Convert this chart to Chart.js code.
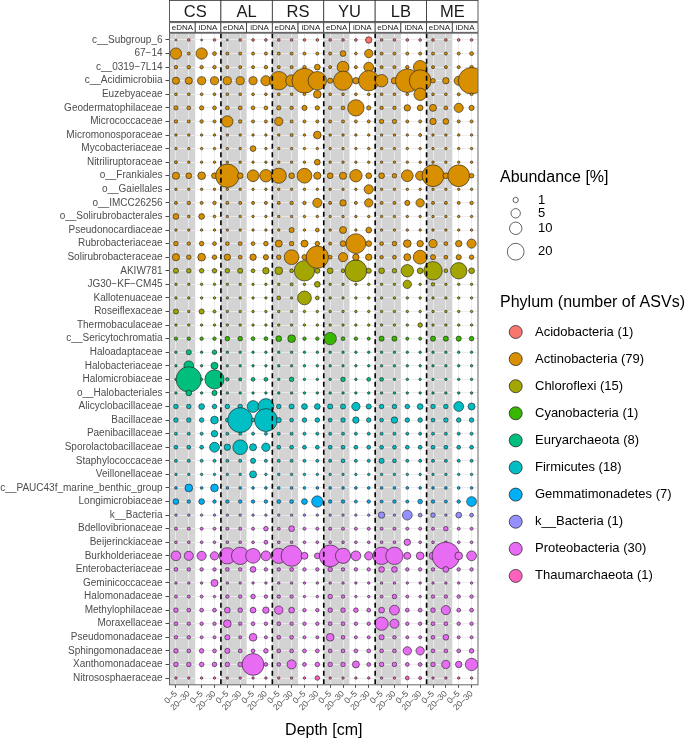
<!DOCTYPE html>
<html>
<head>
<meta charset="utf-8">
<script src="https://cdn.jsdelivr.net/npm/chart.js@4.4.0/dist/chart.umd.min.js"></script>
<style>
  html, body { margin: 0; padding: 0; background: #fff; }
  #wrap { width: 690px; height: 743px; }
</style>
</head>
<body>
<div id="wrap"><canvas id="grafico" width="690" height="743"></canvas></div>
<script>
// sitios, fracciones y profundidades (24 columnas: sitio > fraccion > profundidad)
const sites = ['CS', 'AL', 'RS', 'YU', 'LB', 'ME'];
const fractions = ['eDNA', 'iDNA'];
const depths = ['0–5', '20–30'];

const families = [
  'c__Subgroup_6', '67−14', 'c__0319−7L14', 'c__Acidimicrobiia', 'Euzebyaceae',
  'Geodermatophilaceae', 'Micrococcaceae', 'Micromonosporaceae', 'Mycobacteriaceae',
  'Nitriliruptoraceae', 'o__Frankiales', 'o__Gaiellales', 'o__IMCC26256',
  'o__Solirubrobacterales', 'Pseudonocardiaceae', 'Rubrobacteriaceae',
  'Solirubrobacteraceae', 'AKIW781', 'JG30−KF−CM45', 'Kallotenuaceae', 'Roseiflexaceae',
  'Thermobaculaceae', 'c__Sericytochromatia', 'Haloadaptaceae', 'Halobacteriaceae',
  'Halomicrobiaceae', 'o__Halobacteriales', 'Alicyclobacillaceae', 'Bacillaceae',
  'Paenibacillaceae', 'Sporolactobacillaceae', 'Staphylococcaceae', 'Veillonellaceae',
  'c__PAUC43f_marine_benthic_group', 'Longimicrobiaceae', 'k__Bacteria',
  'Bdellovibrionaceae', 'Beijerinckiaceae', 'Burkholderiaceae', 'Enterobacteriaceae',
  'Geminicoccaceae', 'Halomonadaceae', 'Methylophilaceae', 'Moraxellaceae',
  'Pseudomonadaceae', 'Sphingomonadaceae', 'Xanthomonadaceae', 'Nitrososphaeraceae'
];

const familyPhylum = [
  'Acidobacteria',
  'Actinobacteria', 'Actinobacteria', 'Actinobacteria', 'Actinobacteria', 'Actinobacteria',
  'Actinobacteria', 'Actinobacteria', 'Actinobacteria', 'Actinobacteria', 'Actinobacteria',
  'Actinobacteria', 'Actinobacteria', 'Actinobacteria', 'Actinobacteria', 'Actinobacteria',
  'Actinobacteria',
  'Chloroflexi', 'Chloroflexi', 'Chloroflexi', 'Chloroflexi', 'Chloroflexi',
  'Cyanobacteria',
  'Euryarchaeota', 'Euryarchaeota', 'Euryarchaeota', 'Euryarchaeota',
  'Firmicutes', 'Firmicutes', 'Firmicutes', 'Firmicutes', 'Firmicutes', 'Firmicutes',
  'Gemmatimonadetes', 'Gemmatimonadetes',
  'k__Bacteria',
  'Proteobacteria', 'Proteobacteria', 'Proteobacteria', 'Proteobacteria', 'Proteobacteria',
  'Proteobacteria', 'Proteobacteria', 'Proteobacteria', 'Proteobacteria', 'Proteobacteria',
  'Proteobacteria',
  'Thaumarchaeota'
];

const phyla = ['Acidobacteria', 'Actinobacteria', 'Chloroflexi', 'Cyanobacteria', 'Euryarchaeota',
  'Firmicutes', 'Gemmatimonadetes', 'k__Bacteria', 'Proteobacteria', 'Thaumarchaeota'];
const phylaAsvs = [1, 79, 15, 1, 8, 18, 7, 1, 30, 1];
const phylaColors = ['#F8766D', '#D89000', '#A3A500', '#39B600', '#00BF7D',
  '#00BFC4', '#00B0F6', '#9590FF', '#E76BF3', '#FF62BC'];

const sizeBreaks = [1, 5, 10, 20];

// abundancia [%] por familia; cada fila: CS | AL | RS | YU | LB | ME (eDNA 0-5, 20-30, iDNA 0-5, 20-30)
const abundance = [
  [0, 0.05, 0, 0.05,   0, 0.05, 0.05, 0.05,   0.05, 0.05, 0.05, 0.05,   0.05, 0.05, 0.05, 1.8,   0.05, 0.05, 0.05, 0.05,   0.05, 0.05, 0.05, 0.05],
  [8, 0.1, 8, 0.3,     0.1, 0.1, 0.1, 0.1,    0.1, 0.1, 0.1, 0.1,       0.1, 1.3, 0.05, 3.7,     0.1, 0.1, 0.1, 0.1,       0.1, 0.1, 0.1, 0.3],
  [0.2, 0.2, 0.2, 0.2, 0.1, 0.1, 0.1, 0.2,    0.1, 0.1, 0.2, 1.3,       0.1, 8.8, 0.1, 5.6,      0.1, 0.1, 0.2, 12,        0.1, 0.1, 0.1, 0.2],
  [2.5, 2.5, 3.5, 3.5, 3.5, 3.5, 3.5, 6,      25, 8.8, 48, 25,          1, 27, 1.8, 31,          10, 1.8, 43, 36,          0.6, 1.8, 4.7, 55],
  [0.05, 0.05, 0.05, 0.05, 0.05, 0.05, 0.05, 0.05, 0.05, 0.05, 0.05, 3, 0.05, 0.05, 0.05, 0.05, 0.05, 0.05, 0.05, 10,  0.05, 0.05, 0.1, 0.05],
  [0.5, 0.3, 0.5, 0.3, 0.3, 0.3, 0.3, 0.3,    0.5, 0.2, 0.9, 0.5,       0.2, 0.3, 19, 0.5,       0.2, 0.2, 1.8, 1.3,       2.3, 0.3, 4.7, 0.9],
  [0.2, 0.1, 0.2, 0.1, 8, 0.2, 0.1, 0.1,      3.7, 0.1, 0.1, 0.1,       0.1, 0.1, 0.1, 0.1,      0.5, 0.5, 0.1, 0.1,       1.8, 1.3, 0.1, 0.1],
  [0.02, 0.02, 0.02, 0.02, 0.02, 0.02, 0.02, 0.02, 0.02, 0.1, 0.02, 3, 0.02, 0.02, 0.02, 0.02, 0.02, 0.02, 0.02, 0.1, 0.02, 0.02, 0.02, 0.02],
  [0.02, 0.02, 0.02, 0.02, 0.02, 0.02, 1.3, 0.02, 0.02, 0.02, 0.02, 0.02, 0.02, 0.02, 0.02, 0.02, 0.02, 0.02, 0.02, 0.02, 0.02, 0.02, 0.02, 0.02],
  [0.1, 0.02, 0.02, 0.02, 0.02, 0.02, 0.02, 0.02, 0.02, 0.02, 0.02, 1.3, 0.02, 0.02, 0.02, 0.02, 0.02, 0.02, 0.02, 0.02, 0.02, 0.02, 0.02, 0.02],
  [2.5, 1.3, 3, 1.3,   42, 1.3, 8.8, 10,      16, 1.3, 15, 2.5,         1.3, 2.5, 10, 1.3,       1.3, 0.6, 8.8, 4.7,       36, 1.3, 36, 0.6],
  [0.02, 0.02, 0.02, 0.02, 0.02, 0.02, 0.02, 0.02, 0.02, 0.02, 0.02, 0.02, 0.02, 0.02, 0.02, 4.7, 0.02, 0.02, 0.02, 0.02, 0.02, 0.02, 0.02, 0.02],
  [0.1, 0.2, 0.1, 0.2, 0.1, 0.1, 0.1, 0.1,    0.1, 0.2, 0.2, 4.7,       0.1, 1.8, 0.1, 3.7,      0.1, 0.1, 0.9, 3.7,       0.1, 0.1, 0.1, 0.2],
  [1.3, 0.05, 1.3, 0.05, 0.02, 0.02, 0.02, 0.02, 0.02, 0.02, 0.02, 0.02, 0.02, 0.02, 0.02, 0.02, 0.02, 0.02, 0.02, 0.02, 0.02, 0.02, 0.02, 0.02],
  [0.02, 0.02, 0.02, 0.02, 0.02, 0.02, 0.02, 0.02, 0.02, 0.9, 0.02, 0.3, 0.02, 2.3, 0.02, 1.3, 0.02, 0.02, 0.02, 0.02, 0.02, 0.02, 0.02, 0.02],
  [0.6, 0.2, 0.6, 0.3, 0.3, 0.3, 0.3, 0.6,    2.3, 0.6, 2.3, 0.6,       0.1, 1.3, 29, 1.3,       0.3, 0.6, 3, 1.8,         3.7, 0.3, 1.8, 4.7],
  [2.5, 0.6, 3, 0.6,   1.8, 0.3, 1.8, 0.9,    0.6, 15, 0.9, 38,         0.3, 4.7, 1.8, 1.8,      0.2, 0.3, 2.3, 12.8,      0.9, 0.3, 0.9, 0.6],
  [0.9, 0.6, 0.6, 0.6, 0.6, 0.9, 0.3, 1.8,    3, 0.3, 31, 0.9,          1.3, 0.3, 36, 0.9,       1.3, 0.6, 10, 1.3,        25, 0.3, 19, 1.3],
  [0.02, 0.02, 0.02, 0.02, 0.02, 0.02, 0.02, 0.02, 0.02, 0.1, 0.02, 1.3, 0.02, 0.02, 0.02, 0.02, 0.02, 0.02, 3.7, 0.02, 0.2, 0.02, 0.02, 0.02],
  [0.02, 0.02, 0.02, 0.02, 0.02, 0.02, 0.02, 0.02, 0.3, 0.02, 12.8, 0.3, 0.02, 0.02, 0.02, 0.02, 0.02, 0.02, 0.02, 0.02, 0.02, 0.02, 0.02, 0.02],
  [0.9, 0.02, 0.9, 0.1, 0.02, 0.02, 0.02, 0.02, 0.02, 0.02, 0.02, 0.02, 0.02, 0.02, 0.02, 0.02, 0.02, 0.02, 0.02, 0.02, 0.02, 0.02, 0.02, 0.02],
  [0.02, 0.02, 0.02, 0.02, 0.02, 0.02, 0.02, 0.02, 0.02, 0.02, 0.02, 0.02, 0.02, 0.02, 0.02, 0.02, 0.02, 0.02, 0.02, 0.6, 0.02, 0.02, 0.02, 0.02],
  [0.2, 0.2, 0.2, 0.2, 0.6, 0.6, 0.3, 0.3,    1.3, 3, 0.2, 0.2,         10, 0.3, 0.2, 0.1,       0.9, 0.9, 0.1, 0.1,       0.9, 0.9, 0.9, 0.6],
  [0.02, 0.9, 0.02, 0.6, 0.02, 0.02, 0.02, 0.02, 0.02, 0.02, 0.02, 0.02, 0.02, 0.02, 0.02, 0.02, 0.02, 0.02, 0.02, 0.02, 0.02, 0.02, 0.02, 0.02],
  [0.02, 5.6, 0.02, 2.3, 0.02, 0.02, 0.02, 0.02, 0.02, 0.02, 0.02, 0.02, 0.02, 0.02, 0.02, 0.02, 0.02, 0.02, 0.02, 0.02, 0.02, 0.02, 0.02, 0.02],
  [0.02, 50, 0.02, 27, 0.2, 0.1, 0.3, 0.3,    0.02, 0.6, 0.02, 0.02,    0.02, 0.6, 0.02, 0.3,    0.3, 0.02, 0.02, 0.02,    0.02, 0.02, 0.02, 0.02],
  [0.02, 1.3, 0.02, 0.9, 0.02, 0.02, 0.02, 0.02, 0.02, 0.02, 0.02, 0.02, 0.02, 0.02, 0.02, 0.02, 0.02, 0.02, 0.02, 0.02, 0.02, 0.02, 0.02, 0.02],
  [0.6, 0.6, 1.3, 0.6, 0.6, 0.6, 8.8, 17.5,   0.6, 0.9, 1.3, 1.3,       0.9, 0.9, 3.7, 0.9,      0.6, 0.6, 0.6, 1.3,       0.6, 0.6, 5.6, 2.3],
  [0.6, 0.6, 0.6, 3,   0.3, 48, 0.2, 40,      0.9, 0.3, 0.6, 0.6,       0.3, 0.6, 1.8, 0.6,      0.3, 1.8, 0.6, 0.6,       0.3, 0.6, 0.6, 0.6],
  [0.1, 0.1, 0.1, 1.8, 0.1, 0.1, 0.1, 0.1,    0.1, 0.1, 0.1, 0.1,       0.1, 0.1, 0.1, 0.1,      0.1, 0.1, 0.1, 0.1,       0.1, 0.1, 0.1, 0.1],
  [0.3, 0.3, 0.3, 5.6, 1.8, 15, 2.3, 3.7,     0.3, 0.3, 0.3, 0.3,       0.3, 0.3, 0.3, 0.3,      0.3, 0.3, 0.3, 0.3,       0.3, 0.3, 0.3, 0.3],
  [0.1, 0.1, 0.1, 0.1, 0.1, 0.1, 0.9, 0.1,    0.1, 0.1, 0.1, 0.1,       0.1, 0.3, 0.1, 0.1,      0.9, 0.3, 0.1, 0.1,       0.1, 0.1, 0.1, 0.1],
  [0.02, 0.02, 0.02, 0.02, 0.02, 0.02, 2.3, 0.02, 0.02, 0.02, 0.02, 0.02, 0.02, 0.02, 0.02, 0.02, 0.02, 0.02, 0.02, 0.02, 0.02, 0.02, 0.02, 0.02],
  [0.05, 3, 0.05, 3,   0.05, 0.05, 0.05, 0.05, 0.05, 0.05, 0.05, 0.05,  0.05, 0.05, 0.05, 0.05,  0.05, 0.05, 0.05, 0.05,  0.05, 0.05, 0.05, 0.05],
  [1.3, 0.2, 1.3, 0.2, 0.2, 0.2, 0.2, 0.2,    0.3, 0.3, 1.3, 8,         0.2, 0.2, 0.1, 0.2,      0.1, 0.2, 0.1, 0.6,       0.2, 0.1, 0.2, 5.6],
  [0.02, 0.02, 0.02, 0.02, 0.02, 0.02, 0.02, 0.02, 0.02, 0.02, 0.02, 0.02, 0.02, 0.02, 0.02, 0.02, 1.8, 0.02, 5.6, 0.3, 0.6, 0.02, 1.3, 0.3],
  [0.1, 0.1, 0.1, 0.1, 0.1, 0.1, 0.1, 0.6,    0.1, 1.3, 0.1, 0.1,       0.1, 0.1, 0.1, 0.1,      0.1, 0.1, 0.1, 0.1,       0.1, 0.6, 0.1, 0.1],
  [0.05, 0.05, 0.05, 0.05, 0.05, 0.05, 0.05, 0.3, 0.05, 0.05, 0.05, 0.05, 0.05, 0.05, 0.05, 0.05, 0.05, 0.05, 1.8, 0.05, 0.05, 0.05, 0.05, 0.05],
  [5.6, 4.7, 4.7, 3.7, 19, 22, 15, 5.6,       16, 33, 2.3, 1.3,         36, 16, 5.6, 3.7,        22, 22, 2.3, 3,           3, 60, 3, 5.6],
  [0.3, 0.2, 0.2, 0.2, 0.3, 0.2, 1.3, 0.2,    0.2, 0.3, 0.2, 0.2,       0.6, 0.2, 0.2, 0.2,      1.3, 1.3, 0.2, 0.2,       0.2, 1.3, 0.2, 0.2],
  [0.02, 0.02, 0.02, 2.3, 0.02, 0.02, 0.02, 0.02, 0.02, 0.02, 0.02, 0.02, 0.02, 0.02, 0.02, 0.02, 0.02, 0.02, 0.02, 0.02, 0.02, 0.02, 0.02, 0.02],
  [0.1, 0.1, 0.1, 0.02, 0.2, 0.2, 0.6, 0.2,   0.2, 0.2, 0.02, 0.02,     0.6, 0.2, 0.02, 0.02,    0.1, 0.6, 0.1, 0.02,      0.2, 0.2, 0.2, 0.2],
  [0.6, 0.3, 0.3, 0.3, 1.3, 0.6, 1.3, 1.8,    3.7, 1.3, 0.2, 0.2,       0.6, 0.6, 0.6, 0.3,      1.3, 5.6, 0.3, 0.3,       0.6, 4.7, 0.3, 0.3],
  [0.3, 0.2, 0.2, 0.2, 3, 0.2, 0.3, 0.2,      0.3, 0.2, 0.2, 0.2,       0.3, 0.3, 0.2, 0.2,      11.7, 4.7, 0.2, 0.2,      0.3, 0.3, 0.2, 0.2],
  [0.2, 0.2, 0.1, 0.1, 0.9, 0.1, 3, 0.1,      0.3, 0.3, 0.1, 0.1,       3, 0.3, 0.1, 0.1,        0.9, 0.2, 0.1, 0.1,       0.3, 1.3, 0.1, 0.1],
  [0.6, 0.3, 0.6, 0.3, 0.9, 0.3, 0.3, 0.6,    0.3, 0.3, 0.3, 0.3,       0.3, 0.3, 0.3, 0.3,      0.3, 0.3, 3.7, 3.7,       0.3, 0.3, 0.3, 0.6],
  [0.6, 0.6, 0.6, 0.6, 0.6, 0.6, 36, 0.3,     0.3, 4.7, 0.3, 0.6,       0.6, 0.6, 2.3, 0.3,      0.6, 0.6, 0.3, 0.3,       0.6, 3.7, 1.8, 10],
  [0.02, 0.02, 0.02, 0.02, 0.02, 0.02, 0.02, 0.02, 0.02, 0.02, 0.02, 0.6, 0.02, 0.02, 0.02, 0.02, 0.02, 0.02, 0.3, 0.1, 0.02, 0.02, 0.02, 0.02]
];

const FUENTE = '"Liberation Sans", Arial, sans-serif';
const nCols = sites.length * fractions.length * depths.length;

// radio del punto en px segun abundancia (escala de area)
const radio = v => 1 + 1.65 * Math.sqrt(v);

const datasets = phyla.map((p, k) => ({
  label: p,
  data: [],
  backgroundColor: phylaColors[k],
  borderColor: '#1a1a1a',
  borderWidth: 0.6
}));

abundance.forEach((fila, j) => {
  const k = phyla.indexOf(familyPhylum[j]);
  fila.forEach((v, i) => {
    datasets[k].data.push({ x: i, y: j, r: radio(v) });
  });
});

const decorado = {
  id: 'decorado',
  beforeDraw(chart) {
    const { ctx, chartArea: a, scales: { x } } = chart;
    ctx.save();
    ctx.fillStyle = '#fff';
    ctx.fillRect(0, 0, chart.width, chart.height);
    // bandas grises para eDNA
    ctx.fillStyle = '#D3D3D3';
    sites.forEach((s, k) => {
      const x0 = x.getPixelForValue(k * 4 - 0.5);
      const x1 = x.getPixelForValue(k * 4 + 1.5);
      ctx.fillRect(x0, a.top, x1 - x0, a.bottom - a.top);
    });
    ctx.restore();
  },
  afterDatasetsDraw(chart) {
    const { ctx, chartArea: a, scales: { x } } = chart;
    ctx.save();
    ctx.strokeStyle = '#000';
    ctx.lineWidth = 1.6;
    ctx.setLineDash([5, 3.5]);
    for (let k = 1; k < sites.length; k++) {
      const px = x.getPixelForValue(k * 4 - 0.5);
      ctx.beginPath();
      ctx.moveTo(px, a.top);
      ctx.lineTo(px, a.bottom);
      ctx.stroke();
    }
    ctx.restore();
  },
  afterDraw(chart) {
    const { ctx, chartArea: a, scales: { x } } = chart;
    ctx.save();
    // borde del panel
    ctx.strokeStyle = '#666';
    ctx.lineWidth = 1;
    ctx.strokeRect(a.left, a.top, a.right - a.left, a.bottom - a.top);

    // tiras superiores
    ctx.strokeStyle = '#333';
    ctx.lineWidth = 0.8;
    ctx.textAlign = 'center';
    ctx.textBaseline = 'middle';
    sites.forEach((s, k) => {
      const x0 = x.getPixelForValue(k * 4 - 0.5);
      const x1 = x.getPixelForValue(k * 4 + 3.5);
      ctx.fillStyle = '#fff';
      ctx.fillRect(x0, 0.5, x1 - x0, 21);
      ctx.strokeRect(x0, 0.5, x1 - x0, 21);
      ctx.fillStyle = '#1a1a1a';
      ctx.font = '16.5px ' + FUENTE;
      ctx.fillText(s, (x0 + x1) / 2, 12);
      fractions.forEach((f, m) => {
        const y0 = x.getPixelForValue(k * 4 + m * 2 - 0.5);
        const y1 = x.getPixelForValue(k * 4 + m * 2 + 1.5);
        ctx.fillStyle = '#fff';
        ctx.fillRect(y0, 22.7, y1 - y0, 9.6);
        ctx.strokeRect(y0, 22.7, y1 - y0, 9.6);
        ctx.fillStyle = '#1a1a1a';
        ctx.font = '8px ' + FUENTE;
        ctx.fillText(f, (y0 + y1) / 2, 27.6);
      });
    });

    // titulo eje x
    ctx.fillStyle = '#000';
    ctx.font = '16px ' + FUENTE;
    ctx.fillText('Depth [cm]', (a.left + a.right) / 2, 731);

    // leyenda de tamano
    ctx.textAlign = 'left';
    ctx.font = '16px ' + FUENTE;
    ctx.fillText('Abundance [%]', 500, 178);
    const ySize = [200, 213.3, 228.3, 251.7];
    ctx.font = '13px ' + FUENTE;
    sizeBreaks.forEach((b, i) => {
      ctx.beginPath();
      ctx.arc(515.7, ySize[i], radio(b), 0, Math.PI * 2);
      ctx.fillStyle = '#fff';
      ctx.fill();
      ctx.strokeStyle = '#222';
      ctx.lineWidth = 0.7;
      ctx.stroke();
      ctx.fillStyle = '#000';
      ctx.fillText(String(b), 538, ySize[i]);
    });

    // leyenda de phylum
    ctx.font = '16px ' + FUENTE;
    ctx.fillText('Phylum (number of ASVs)', 500, 303);
    ctx.font = '13px ' + FUENTE;
    phyla.forEach((p, i) => {
      const yy = 332 + i * 27.1;
      ctx.beginPath();
      ctx.arc(515.7, yy, 6.5, 0, Math.PI * 2);
      ctx.fillStyle = phylaColors[i];
      ctx.fill();
      ctx.strokeStyle = '#1a1a1a';
      ctx.lineWidth = 0.7;
      ctx.stroke();
      ctx.fillStyle = '#000';
      ctx.fillText(`${p} (${phylaAsvs[i]})`, 535, yy);
    });
    ctx.restore();
  }
};

new Chart(document.getElementById('grafico'), {
  type: 'bubble',
  data: { datasets },
  options: {
    responsive: false,
    animation: false,
    events: [],
    devicePixelRatio: 1,
    layout: { padding: { left: 0, right: 212, top: 33.2, bottom: 0 } },
    plugins: { legend: { display: false }, tooltip: { enabled: false } },
    scales: {
      x: {
        type: 'linear',
        min: -0.5,
        max: nCols - 0.5,
        afterBuildTicks: s => { s.ticks = Array.from({ length: nCols }, (_, i) => ({ value: i })); },
        afterFit: s => { s.height = 743 - 684.8; },
        grid: { color: '#EBEBEB', lineWidth: 0.9, tickLength: 3, tickColor: '#333' },
        border: { display: false },
        ticks: {
          autoSkip: false,
          minRotation: 45,
          maxRotation: 45,
          padding: 1,
          color: '#4D4D4D',
          font: { family: FUENTE, size: 8.5 },
          callback: v => depths[v % 2]
        }
      },
      y: {
        type: 'linear',
        reverse: true,
        min: -0.5,
        max: families.length - 0.5,
        afterBuildTicks: s => { s.ticks = families.map((_, i) => ({ value: i })); },
        afterFit: s => { s.width = 169.5; },
        grid: { color: '#EBEBEB', lineWidth: 0.9, tickLength: 4, tickColor: '#333' },
        border: { display: false },
        ticks: {
          autoSkip: false,
          padding: 3,
          color: '#4D4D4D',
          font: { family: FUENTE, size: 10 },
          callback: v => families[v]
        }
      }
    }
  },
  plugins: [decorado]
});
</script>
</body>
</html>
